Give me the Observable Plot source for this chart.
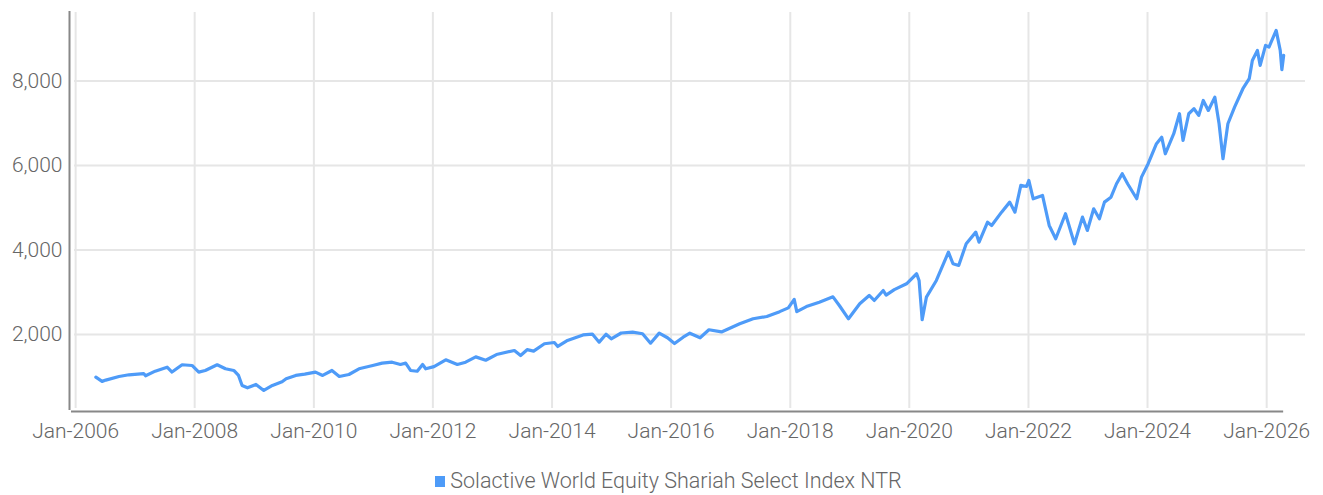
<!DOCTYPE html>
<html>
<head>
<meta charset="utf-8">
<script src="https://cdn.jsdelivr.net/npm/d3@7"></script>
<script src="https://cdn.jsdelivr.net/npm/@observablehq/plot@0.6"></script>
<style>
  html, body { margin: 0; padding: 0; background: #fff; }
  #chart svg text { font-weight: 300; }
  .legend { font-family: Roboto, sans-serif; font-weight: 300; font-size: 21.5px; color: #666;
            text-align: center; padding-top: 24px; padding-left: 14px; line-height: 24px; }
  .legend .sw { display: inline-block; width: 10px; height: 11px; background: #4e9bf8;
                margin-right: 5px; vertical-align: 1px; }
</style>
</head>
<body>
<div id="chart"></div>
<div class="legend"><span class="sw"></span>Solactive World Equity Shariah Select Index NTR</div>
<script>
const seriesName = "Solactive World Equity Shariah Select Index NTR";
const dates = [
"2006-05-05","2006-06-12","2006-07-05","2006-09-24","2006-11-24","2007-02-22","2007-03-06","2007-05-04",
"2007-07-16","2007-08-15","2007-10-16","2007-12-16","2008-01-26","2008-03-06","2008-05-18","2008-07-08",
"2008-08-28","2008-09-26","2008-10-18","2008-11-20","2009-01-11","2009-02-28","2009-04-22","2009-06-20",
"2009-07-15","2009-09-12","2009-11-06","2010-01-11","2010-02-24","2010-04-22","2010-06-06","2010-08-04",
"2010-10-05","2010-12-28","2011-02-24","2011-04-26","2011-06-16","2011-07-18","2011-08-17","2011-09-27",
"2011-10-30","2011-11-18","2012-01-08","2012-03-20","2012-05-30","2012-07-20","2012-09-20","2012-11-20",
"2013-01-25","2013-05-15","2013-06-22","2013-08-01","2013-09-10","2013-11-15","2014-01-15","2014-02-05",
"2014-04-01","2014-07-10","2014-09-05","2014-10-17","2014-11-28","2014-12-30","2015-03-01","2015-05-10",
"2015-07-10","2015-08-28","2015-10-20","2015-12-10","2016-01-22","2016-03-15","2016-04-25","2016-06-27",
"2016-08-20","2016-11-05","2017-02-25","2017-05-18","2017-08-10","2017-10-28","2017-12-20","2018-01-25",
"2018-02-10","2018-04-10","2018-06-28","2018-09-20","2018-10-30","2018-12-24","2019-03-03","2019-04-30",
"2019-05-31","2019-07-25","2019-08-12","2019-10-01","2019-12-15","2020-02-15","2020-03-01","2020-03-20",
"2020-04-15","2020-06-15","2020-08-28","2020-09-25","2020-10-30","2020-12-15","2021-02-12","2021-03-04",
"2021-04-25","2021-05-20","2021-07-20","2021-09-08","2021-10-10","2021-11-15","2021-12-20","2022-01-03",
"2022-01-30","2022-03-28","2022-05-08","2022-06-17","2022-08-16","2022-10-10","2022-11-28","2022-12-28",
"2023-02-05","2023-03-12","2023-04-12","2023-05-22","2023-06-25","2023-07-30","2023-09-01","2023-10-27",
"2023-11-25","2024-01-05","2024-02-25","2024-03-28","2024-04-19","2024-06-10","2024-07-15","2024-08-06",
"2024-09-10","2024-10-12","2024-11-10","2024-12-08","2025-01-08","2025-02-17","2025-03-15","2025-04-08",
"2025-05-08","2025-06-18","2025-08-08","2025-09-16","2025-10-05","2025-11-05","2025-11-22","2025-12-25",
"2026-01-15","2026-02-28","2026-03-25","2026-04-04","2026-04-15"
];
const values = [
990,890,920,1006,1046,1075,1022,1132,
1226,1110,1283,1266,1108,1148,1283,1188,
1148,1030,793,738,817,675,793,880,
951,1030,1060,1108,1030,1148,1006,1053,
1188,1266,1321,1344,1290,1321,1148,1130,
1290,1188,1240,1401,1290,1344,1470,1390,
1525,1621,1503,1640,1605,1780,1810,1716,
1850,1990,2010,1818,2005,1898,2035,2055,
2017,1794,2031,1922,1785,1936,2030,1922,
2111,2060,2253,2371,2426,2540,2630,2830,
2540,2660,2765,2890,2680,2371,2727,2923,
2805,3041,2930,3060,3200,3437,3278,2348,
2883,3278,3948,3674,3633,4147,4422,4185,
4658,4580,4895,5132,4895,5527,5503,5645,
5212,5290,4580,4265,4857,4147,4777,4462,
4975,4739,5132,5250,5567,5804,5567,5212,
5724,6041,6514,6670,6277,6751,7224,6592,
7224,7343,7184,7539,7302,7617,6987,6159,
6987,7380,7816,8053,8486,8722,8368,8841,
8801,9196,8722,8266,8604
];
const xTickYears = [2006,2008,2010,2012,2014,2016,2018,2020,2022,2024,2026];
const yTicks = [2000,4000,6000,8000];

const data = dates.map((d, i) => ({date: new Date(d + "T00:00:00Z"), value: values[i]}));
const xTicks = xTickYears.map(y => new Date(Date.UTC(y, 0, 1)));
const xStart = new Date("2005-12-25T00:00:00Z");
const xEnd = new Date("2026-08-27T00:00:00Z");
const yMin = 248, yMax = 9620;

const chart = Plot.plot({
  width: 1323,
  height: 445,
  marginLeft: 74,
  marginRight: 18,
  marginTop: 12,
  marginBottom: 37,
  style: {fontFamily: "Roboto, sans-serif", fontSize: "21px", color: "#666", background: "#fff"},
  x: {type: "utc", domain: [xStart, xEnd], label: null},
  y: {domain: [yMin, yMax], label: null},
  marks: [
    Plot.gridY(yTicks, {stroke: "#e6e6e6", strokeOpacity: 1, strokeWidth: 2}),
    Plot.gridX(xTicks, {stroke: "#e6e6e6", strokeOpacity: 1, strokeWidth: 2}),
    Plot.ruleX([xStart], {stroke: "#888", strokeWidth: 2, dx: -5, insetTop: -1, insetBottom: -2}),
    Plot.ruleY([yMin], {x1: xStart, x2: data[data.length - 1].date, stroke: "#888", strokeWidth: 2, dy: 3, insetLeft: -3}),
    Plot.lineY(data, {x: "date", y: "value", stroke: "#4e9bf8", strokeWidth: 3.2, strokeLinejoin: "round"}),
    Plot.axisX(xTicks, {tickSize: 0, tickPadding: 15, tickFormat: d => "Jan-" + d.getUTCFullYear(), fill: "#666", label: null}),
    Plot.axisY(yTicks, {tickSize: 0, tickPadding: 12, tickFormat: d3.format(","), fill: "#666", label: null})
  ]
});
document.getElementById("chart").appendChild(chart);
</script>
</body>
</html>
